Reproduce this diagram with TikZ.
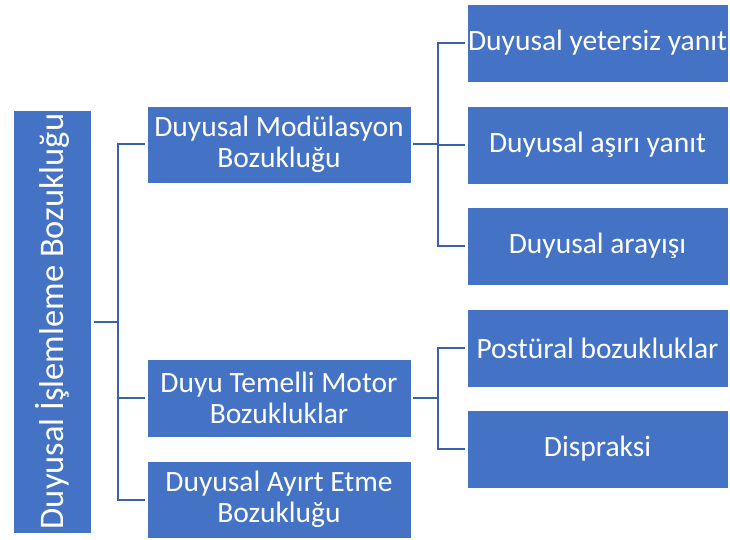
\documentclass[tikz,border=0pt]{standalone}
\usepackage{fontspec}
\setmainfont{Carlito}
\definecolor{boxblue}{HTML}{4472C4}
\definecolor{linkblue}{HTML}{3A62AC}
\begin{document}
\begin{tikzpicture}[x=1pt,y=-1pt,
  box/.style={rectangle,fill=boxblue,draw=white,line width=0.6pt,text=white,align=center,
    font=\fontsize{29.5}{31.5}\selectfont,inner sep=0pt},
  link/.style={draw=linkblue,line width=2pt}]
\useasboundingbox (0,0) rectangle (730,540);
\node[box,minimum width=423,minimum height=78,rotate=90,font=\fontsize{34.5}{40}\selectfont] (root) at (52,321.5) {Duyusal İşlemleme Bozukluğu};
\node[box,minimum width=264,minimum height=77] (m1) at (279,144.5) {Duyusal Modülasyon\\Bozukluğu};
\node[box,minimum width=264,minimum height=78] (m2) at (279,398) {Duyu Temelli Motor\\Bozukluklar};
\node[box,minimum width=264,minimum height=77] (m3) at (279,499.5) {Duyusal Ayırt Etme\\Bozukluğu};
\node[box,minimum width=261,minimum height=78] (r1) at (597.5,43) {Duyusal yetersiz yanıt};
\node[box,minimum width=261,minimum height=78] (r2) at (597.5,145) {Duyusal aşırı yanıt};
\node[box,minimum width=261,minimum height=78] (r3) at (597.5,246) {Duyusal arayışı};
\node[box,minimum width=261,minimum height=78] (r4) at (597.5,348) {Postüral bozukluklar};
\node[box,minimum width=261,minimum height=78] (r5) at (597.5,449) {Dispraksi};
\coordinate (j1) at (118,321.5);
\coordinate (j2) at (438,144.5);
\coordinate (j3) at (438,398);
\draw[link] (root.south) ++(3,0) -- (j1);
\draw[link,shorten <=2pt] (m1.west) -| (j1) |- ([xshift=-2pt]m3.west);
\draw[link,shorten <=2pt] (m2.west) -- (m2.west -| j1);
\draw[link,shorten <=2pt] (m1.east) -- (j2);
\draw[link,shorten <=2pt] (r1.west) -| (j2) |- ([xshift=-2pt]r3.west);
\draw[link,shorten <=2pt] (r2.west) -- (r2.west -| j2);
\draw[link,shorten <=2pt] (m2.east) -- (j3);
\draw[link,shorten <=2pt] (r4.west) -| (j3) |- ([xshift=-2pt]r5.west);
\end{tikzpicture}
\end{document}
